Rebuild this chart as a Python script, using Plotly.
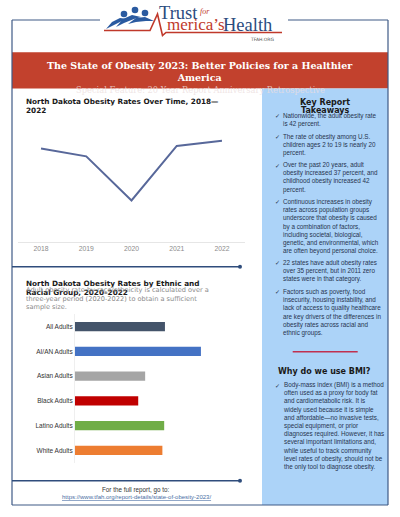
import plotly.graph_objects as go

W, H = 400, 517
def X(p): return p / W
def Y(p): return 1 - p / H

# ---------------- data ----------------
years = [2018, 2019, 2020, 2021, 2022]
nd_rates = [35.1, 34.8, 33.1, 35.2, 35.4]

groups = ["All Adults", "AI/AN Adults", "Asian Adults", "Black Adults", "Latino Adults", "White Adults"]
group_rates = [35.0, 49.0, 27.3, 24.6, 34.7, 34.0]
group_colors = ["#44546a", "#4472c4", "#a5a5a5", "#c00000", "#70ad47", "#ed7d31"]

takeaways = [
    "Nationwide, the adult obesity rate<br>is 42 percent.",
    "The rate of obesity among U.S.<br>children ages 2 to 19 is nearly 20<br>percent.",
    "Over the past 20 years, adult<br>obesity increased 37 percent, and<br>childhood obesity increased 42<br>percent.",
    "Continuous increases in obesity<br>rates across population groups<br>underscore that obesity is caused<br>by a combination of factors,<br>including societal, biological,<br>genetic, and environmental, which<br>are often beyond personal choice.",
    "22 states have adult obesity rates<br>over 35 percent, but in 2011 zero<br>states were in that category.",
    "Factors such as poverty, food<br>insecurity, housing instability, and<br>lack of access to quality healthcare<br>are key drivers of the differences in<br>obesity rates across racial and<br>ethnic groups.",
]
takeaway_y = [115.7, 137.3, 165.7, 202.3, 263.3, 291.7]
bmi_text = ("Body-mass index (BMI) is a method<br>often used as a proxy for body fat<br>and cardiometabolic risk. It is<br>"
            "widely used because it is simple<br>and affordable\u2014no invasive tests,<br>special equipment, or prior<br>"
            "diagnoses required. However, it has<br>several important limitations and,<br>while useful to track community<br>"
            "level rates of obesity, should not be<br>the only tool to diagnose obesity.")

# ---------------- figure ----------------
fig = go.Figure()
fig.add_trace(go.Scatter(x=years, y=nd_rates, mode="lines",
                         line=dict(color="#58689a", width=2),
                         xaxis="x", yaxis="y", hoverinfo="x+y", showlegend=False))
fig.add_trace(go.Bar(y=groups, x=group_rates, orientation="h",
                     marker=dict(color=group_colors, line=dict(width=0)),
                     width=0.375, xaxis="x2", yaxis="y2", showlegend=False))

NAVY = "#3e5a86"
shapes = []
def line(x0, y0, x1, y1, color=NAVY, width=1.2):
    shapes.append(dict(type="line", xref="paper", yref="paper", x0=X(x0), y0=Y(y0), x1=X(x1), y1=Y(y1),
                       line=dict(color=color, width=width)))
def rect(x0, y0, x1, y1, color, layer="below"):
    shapes.append(dict(type="rect", xref="paper", yref="paper", x0=X(x0), y0=Y(y0), x1=X(x1), y1=Y(y1),
                       fillcolor=color, line=dict(width=0), layer=layer))
def circle(cx, cy, r, color):
    shapes.append(dict(type="circle", xref="paper", yref="paper", x0=X(cx - r), y0=Y(cy + r), x1=X(cx + r), y1=Y(cy - r),
                       fillcolor=color, line=dict(width=0)))
def path(pts, color, width, fill=None):
    d = "M " + " L ".join(f"{X(a):.5f},{Y(b):.5f}" for a, b in pts)
    if fill:
        d += " Z"
    shapes.append(dict(type="path", xref="paper", yref="paper", path=d,
                       line=dict(color=color, width=width), fillcolor=fill if fill else "rgba(0,0,0,0)"))

# backgrounds
rect(12, 52.3, 388, 88.5, "#c2412d")
rect(262, 88.5, 388, 505, "#acd3f8")
# frame
line(12, 20, 100, 20)
line(288, 20, 388, 20)
line(12, 20, 12, 505)
line(388, 20, 388, 505)
line(12, 505, 388, 505)
# dividers
line(12, 266.7, 240, 266.7, "#2f4d7c", 1.5)
circle(240, 266.7, 2, "#2f4d7c")
line(12, 480.7, 240, 480.7, "#2f4d7c", 1.5)
circle(240, 480.7, 2, "#2f4d7c")
line(292.7, 351.7, 357.7, 351.7, "#c0304f", 1.5)

# logo graphics
LOGO_BLUE = "#2a5aa0"
LOGO_RED = "#c0392b"
path([(104, 30.5), (150, 30.5), (157.5, 14), (162.5, 35.5), (166, 32.5), (282, 32.5)], LOGO_RED, 1.6)
path([(106, 29), (112, 22), (120, 18), (128, 19), (122, 21), (114, 25)], LOGO_BLUE, 0, LOGO_BLUE)
path([(116, 27), (123, 19), (132, 15), (141, 17), (134, 19), (124, 23)], LOGO_BLUE, 0, LOGO_BLUE)
path([(128, 24), (136, 18), (145, 17), (154, 21), (146, 21), (136, 22)], LOGO_BLUE, 0, LOGO_BLUE)
circle(124, 14, 3.3, LOGO_BLUE)
circle(135, 10, 3.3, LOGO_BLUE)
circle(145, 13, 3.3, LOGO_BLUE)

ann = []
def text(px, py, s, size, color, family="DejaVu Sans", xanchor="left", yanchor="middle", align="left"):
    ann.append(dict(x=X(px), y=Y(py), xref="paper", yref="paper", text=s, showarrow=False,
                    font=dict(size=size, color=color, family=family),
                    xanchor=xanchor, yanchor=yanchor, align=align))

# logo text
text(157, 12.5, "Trust", 18.5, "#2b4c7e", "Liberation Serif")
text(197.5, 11.5, "<i>for</i>", 8, LOGO_RED, "Liberation Serif")
text(164.5, 25, "merica\u2019s", 17, LOGO_RED, "Liberation Serif")
text(221, 25, "Health", 18.5, "#2b4c7e", "Liberation Serif")
text(262, 40, "TFAH.ORG", 4.5, "#555555", "DejaVu Sans", xanchor="center")

# banner
text(200, 71.2, "<b>The State of Obesity 2023: Better Policies for a Healthier<br>America</b>", 9.5, "#ffffff",
     "DejaVu Serif", xanchor="center", align="center")
text(200, 89.5, "Special Feature: 20 Year Report Anniversary Retrospective", 8.3, "rgba(236,222,222,0.8)",
     "DejaVu Serif", xanchor="center")

# section titles
text(24, 106.3, "<b>North Dakota Obesity Rates Over Time, 2018\u2014<br>2022</b>", 7.3, "#1a1a1a")
text(24, 288, "<b>North Dakota Obesity Rates by Ethnic and<br>Racial Group, 2020\u20132022</b>", 7.3, "#1a1a1a")
text(24, 298.6, "Adult obesity rate by race/ethnicity is calculated over a<br>three-year period (2020-2022) to obtain a sufficient<br>sample size.",
     6.6, "#8a8a8a")

# footer
text(135, 490, "For the full report, go to:", 6.3, "#333333", "Liberation Sans", xanchor="center")
text(136, 497, "<u>https://www.tfah.org/report-details/state-of-obesity-2023/</u>", 6, "#4a6fa5",
     "Liberation Sans", xanchor="center")

# key takeaways box
text(325, 102.3, "<b>Key Report</b>", 8, "#1a1a1a", xanchor="center")
text(325, 110.5, "<b>Takeaways</b>", 8, "#1a1a1a", xanchor="center")
BOX_TXT = "#27344f"
LH = 6.3 * 1.3
for s, y0 in zip(takeaways, takeaway_y):
    n = s.count("<br>") + 1
    text(281, y0 + (n - 1) * LH / 2, s, 6.3, BOX_TXT, "Liberation Sans")
    text(273, y0 - 0.5, "\u2713", 6, BOX_TXT, "DejaVu Sans")
text(324, 371.7, "<b>Why do we use BMI?</b>", 8, "#1a1a1a", xanchor="center")
nb = bmi_text.count("<br>") + 1
text(281, 385.5 + (nb - 1) * LH / 2, bmi_text, 6.3, BOX_TXT, "Liberation Sans")
text(273, 385, "\u2713", 6, BOX_TXT, "DejaVu Sans")

fig.update_layout(
    width=W, height=H, autosize=False,
    margin=dict(l=0, r=0, t=0, b=0),
    paper_bgcolor="#ffffff", plot_bgcolor="rgba(0,0,0,0)",
    showlegend=False, shapes=shapes, annotations=ann,
    xaxis=dict(domain=[X(18.4), X(244.6)], range=[2017.5, 2022.5], tickvals=years,
               ticktext=[str(v) for v in years], showgrid=False, zeroline=False,
               showline=True, linecolor="#e6e6e6", linewidth=1, ticks="",
               tickfont=dict(size=6.8, color="#8c8c8c", family="Liberation Sans"), fixedrange=True),
    yaxis=dict(domain=[Y(242), Y(120)], range=[31.5, 36.2], visible=False, fixedrange=True),
    xaxis2=dict(domain=[X(75), X(240)], range=[0, 64.2], visible=False, anchor="y2", fixedrange=True),
    yaxis2=dict(domain=[Y(462.7), Y(314.3)], anchor="x2", categoryorder="array", categoryarray=groups,
                range=[5.5, -0.5], showgrid=False, zeroline=False, showline=True, linecolor="#efefef",
                ticks="", tickfont=dict(size=6.5, color="#333333", family="Liberation Sans"), fixedrange=True),
    bargap=0.625,
)

fig.write_html("out.html", config={"displayModeBar": False},
               post_script="document.body.style.margin='0';document.body.style.overflow='hidden';")
